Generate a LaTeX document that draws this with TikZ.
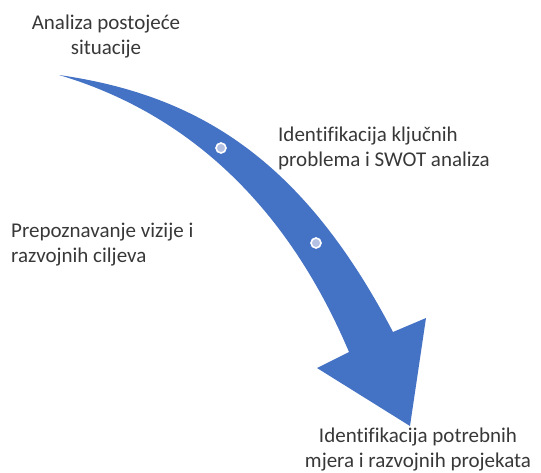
\documentclass[tikz,border=0pt]{standalone}
\usepackage{fontspec}
\setmainfont{Carlito}[Ligatures=NoCommon]

\begin{document}
\begin{tikzpicture}[x=1pt, y=-1pt,
		lbl/.style={inner sep=0pt, font=\fontsize{21}{25}\selectfont, text=black!78},
		marker/.style={circle, draw=white, line width=1.6pt, fill=dotfill, minimum size=10pt, inner sep=0pt}]
		\definecolor{arrowblue}{RGB}{68,114,196}
		\definecolor{dotfill}{RGB}{180,193,227}
		\useasboundingbox (0,0) rectangle (541,472);
		% curved arrow
		\coordinate (tail) at (59,75);
		\coordinate (innerR) at (393,332);
		\coordinate (barbR) at (426,318);
		\coordinate (tip) at (410,426);
		\coordinate (barbL) at (317,368);
		\coordinate (innerL) at (349,352);
		\fill[arrowblue] (tail) .. controls (199,95) and (303,160) .. (innerR) -- (barbR) -- (tip) -- (barbL) -- (innerL) .. controls (279,187) and (170,108) .. (tail) -- cycle;
		\foreach \i/\x/\y in {1/221/148, 2/316/243} {
			\node[marker] (dot\i) at (\x,\y) {};
		}
		% labels
		\node[lbl, align=center] (situ) at (106,37) {Analiza postojeće\\situacije};
		\node[lbl, align=left, anchor=west] (swot) at (278,148.5) {Identifikacija ključnih\\problema i SWOT analiza};
		\node[lbl, align=left, anchor=west] (vision) at (11,244.5) {Prepoznavanje vizije i\\razvojnih ciljeva};
		\node[lbl, align=center] (measures) at (418,450) {Identifikacija potrebnih\\mjera i razvojnih projekata};
\end{tikzpicture}
\end{document}
